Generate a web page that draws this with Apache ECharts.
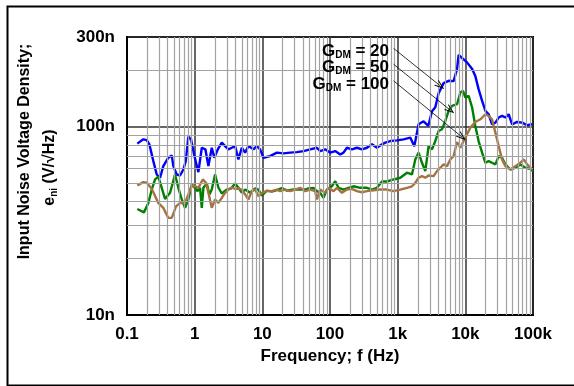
<!DOCTYPE html>
<html>
<head>
<meta charset="utf-8">
<script src="https://cdn.jsdelivr.net/npm/echarts@6/dist/echarts.min.js"></script>
<style>
html, body { margin: 0; padding: 0; background: #fff; }
#chart { width: 574px; height: 386px; }
</style>
</head>
<body>
<div id="chart"></div>
<script>
// G_DM = 20 (blue)
var freqG20 = [0.142, 0.174, 0.196, 0.214, 0.245, 0.275, 0.308, 0.344, 0.408, 0.458, 0.484, 0.543, 0.608, 0.681, 0.739, 0.807, 0.884, 0.98,
	1.134, 1.274, 1.44, 1.595, 1.79, 1.956, 2.196, 2.517, 2.817, 3.15, 3.54, 3.96, 4.43, 4.97, 5.57, 6.23, 7.39, 8.29, 9.28,
	10.4, 13.0, 16.4, 20.5, 25.8, 32.4, 40.6, 51, 64, 71.6, 84.9, 100.7, 119.4, 141.6, 158.4, 177.8, 210.9, 250, 296.4, 351.5,
	416.7, 494, 586, 655.6, 777, 976, 1223, 1536, 1761, 2038, 2416, 2836, 3217, 3599, 4027, 4775, 5662, 6712, 7539, 7960, 8939,
	10600, 12600, 14050, 15700, 17700, 19800, 22100, 24800, 27800, 31100, 34900, 39100, 43700, 49100, 58200, 69000, 81800, 97000];
var noiseG20 = [81.4, 85.8, 85.0, 80.7, 65.7, 55.8, 53.6, 61.8, 68.5, 70.5, 61.8, 55.8, 55.1, 59.3, 65.7, 88.6, 85.8, 71.3,
	57.4, 77.4, 75.9, 61.8, 77.4, 68.5, 75.9, 82.4, 79.0, 75.9, 77.4, 79.0, 67.1, 77.4, 72.9, 79.0, 75.9, 79.0, 75.9,
	68.5, 69.9, 72.9, 72.2, 72.9, 73.4, 74.3, 75.9, 77.4, 74.3, 75.9, 72.9, 74.3, 71.3, 72.9, 77.4, 75.9, 77.4, 75.9, 77.4,
	80.7, 77.4, 80.7, 82.4, 84.0, 84.7, 85.8, 87.6, 78.7, 103.1, 107.0, 101.2, 121.0, 127.1, 150.9, 170.6, 175.5, 174.8, 202.6, 240.7, 232.0,
	220.0, 202.6, 185.9, 158.5, 137.3, 121.4, 116.6, 103.1, 105.3, 112.0, 114.2, 112.0, 116.6, 103.1, 106.1, 105.3, 101.9, 103.1];

// G_DM = 50 (green)
var freqG50 = [0.142, 0.178, 0.207, 0.232, 0.26, 0.29, 0.326, 0.365, 0.433, 0.513, 0.574, 0.645, 0.721, 0.807, 0.906,
	1.014, 1.096, 1.202, 1.274, 1.345, 1.51, 1.65, 1.79, 2.003, 2.242, 2.517, 2.985, 3.455, 3.96, 4.43, 4.97, 5.57, 6.6, 7.83, 8.76, 9.83,
	11.66, 13.82, 16.4, 19.4, 23.0, 28.9, 36.2, 43.0, 48.1, 57.0, 64, 71.6, 80.1, 90, 106.7, 119.4, 133.6, 158.4, 187.8, 222.6, 279.7,
	351.5, 416.7, 494, 586, 694.6, 869.9, 1093, 1373, 1627, 1821, 2038, 2288, 2561, 2865, 3217, 3599, 4027, 4521, 5059, 5662, 6357, 7539,
	8433, 9247, 10000, 11190, 12600, 14050, 15700, 17700, 19800, 22100, 24800, 27800, 31100, 34900, 39100, 46300, 54900, 65100, 77200, 91500, 100000];
var noiseG50 = [36.6, 35.1, 39.4, 46.4, 52.5, 54.3, 47.4, 41.4, 44.6, 55.8, 47.4, 41.1, 37.1, 41.1, 49.4,
	47.4, 45.5, 47.4, 37.1, 47.4, 50.0, 43.7, 46.4, 55.8, 47.6, 44.2, 46.4, 47.0, 50.0, 47.4, 44.7, 46.4, 44.7, 47.0, 46.4, 43.1,
	45.8, 45.3, 46.1, 47.3, 45.8, 46.4, 46.4, 46.4, 47.0, 47.3, 45.5, 44.6, 41.9, 46.4, 48.3, 51.4, 47.4, 46.4, 47.4, 48.3, 47.4,
	47.4, 46.4, 47.4, 51.2, 51.2, 52.5, 53.6, 57.0, 55.8, 67.1, 72.9, 64.4, 58.1, 79.0, 75.9, 84.0, 95.0, 97.0, 107.4, 121.4, 129.1, 131.8,
	152.2, 155.2, 143.1, 146.0, 126.6, 101.0, 84.0, 72.9, 64.4, 65.7, 64.4, 63.1, 69.9, 68.5, 63.1, 59.3, 60.6, 63.1, 60.6, 59.8, 58.1];

// G_DM = 100 (brown)
var freqG100 = [0.142, 0.174, 0.196, 0.232, 0.29, 0.344, 0.408, 0.458, 0.531, 0.608, 0.721, 0.807, 0.906,
	1.014, 1.134, 1.318, 1.474, 1.595, 1.79, 2.003, 2.242, 2.517, 2.817, 3.15, 3.54, 3.96, 4.43, 4.97, 5.57, 6.23, 6.99, 7.83, 8.76, 9.83,
	11.66, 13.82, 16.4, 18.3, 21.7, 25.8, 30.6, 36.2, 43.0, 51, 60.4, 64, 71.6, 84.9, 95.0, 112.7, 126.5, 150, 177.8, 210.9, 250, 296.4,
	351.5, 440, 553, 694.6, 869.9, 1093, 1373, 1627, 1821, 2038, 2288, 2561, 2865, 3398, 3813, 4268, 4775, 5362, 5999, 6712, 7539, 8433, 9439,
	10600, 11860, 14050, 16700, 19800, 22100, 24800, 27800, 31100, 34900, 39100, 46300, 54900, 65100, 72900, 81800, 97000];
var noiseG100 = [48.8, 50.8, 50.4, 46.8, 39.4, 37.1, 32.8, 32.8, 37.8, 39.4, 39.4, 43.7, 48.8,
	48.3, 47.4, 52.5, 50.4, 44.6, 37.1, 41.1, 39.4, 41.9, 44.6, 46.4, 47.6, 46.7, 47.0, 46.4, 43.7, 41.1, 45.5, 46.4, 42.8, 44.6,
	45.5, 45.5, 46.4, 45.5, 46.4, 45.5, 46.4, 47.4, 45.5, 46.4, 45.5, 41.1, 46.4, 44.6, 47.4, 45.5, 47.4, 44.6, 46.4, 46.8, 45.5, 44.9,
	45.5, 46.0, 46.4, 46.4, 45.5, 46.4, 47.4, 48.3, 50.4, 53.6, 54.7, 53.6, 55.1, 54.7, 58.1, 60.6, 63.1, 61.8, 67.1, 69.9, 83.0, 77.4, 84.0,
	91.2, 99.0, 106.1, 109.6, 116.6, 114.2, 109.6, 93.1, 79.0, 67.1, 61.8, 59.3, 61.8, 64.4, 67.1, 63.1, 59.3];

var gainLabels = ['20', '50', '100'];
var lineColors = ['#0000ff', '#008000', '#a6723f'];

// annotation arrows: [from, to] in (Hz, nV)
var arrowFrom = [[870, 261], [870, 215], [870, 175.5]];
var arrowTo = [[4268, 165], [5999, 122.5], [8939, 88.2]];

// minor grid (2..9 of every decade)
var xMinor = [], yMinor = [];
[0.1, 1, 10, 100, 1000, 10000].forEach(function(d) {
	for (var k = 2; k <= 9; k++) xMinor.push(+(d * k).toPrecision(3));
});
for (var k = 2; k <= 9; k++) yMinor.push(10 * k);
yMinor.push(200);

function zip(a, b) {
	var out = [];
	for (var i = 0; i < a.length; i++) out.push([a[i], b[i]]);
	return out;
}

var FONT = 'Arial, "Liberation Sans", sans-serif';

function xLabel(v) {
	var r = +v.toPrecision(3);
	if (r >= 1000) return (r / 1000) + 'k';
	return '' + r;
}

var gridLines = [];
xMinor.forEach(function(v) { gridLines.push({ xAxis: v }); });
yMinor.forEach(function(v) { gridLines.push({ yAxis: v }); });

var arrows = [];
for (var i = 0; i < arrowFrom.length; i++) {
	arrows.push([{ coord: arrowFrom[i] }, { coord: arrowTo[i] }]);
}

var curves = [
	{ f: freqG20, v: noiseG20 },
	{ f: freqG50, v: noiseG50 },
	{ f: freqG100, v: noiseG100 }
];

var series = [{
	type: 'line',
	data: [],
	silent: true,
	z: 1,
	markLine: {
		silent: true,
		symbol: 'none',
		animation: false,
		label: { show: false },
		lineStyle: { type: 'solid', color: '#a2a2a2', width: 1.2 },
		data: gridLines
	}
}];
curves.forEach(function(c, i) {
	series.push({
		name: 'G' + gainLabels[i],
		type: 'line',
		data: zip(c.f, c.v),
		showSymbol: false,
		z: 3,
		lineStyle: { color: lineColors[i], width: 2.4 },
		itemStyle: { color: lineColors[i] }
	});
});
series.push({
	type: 'line',
	data: [],
	silent: true,
	z: 4,
	markLine: {
		silent: true,
		animation: false,
		symbol: ['none', 'path://M0,10 L5,0 L10,10 L8.6,10 L5,3 L1.4,10 Z'],
		symbolSize: [7, 10],
		label: { show: false },
		lineStyle: { type: 'solid', color: '#000', width: 0.8 },
		data: arrows
	}
});

var rich = {
	g: { fontFamily: FONT, fontWeight: 'bold', fontSize: 17, lineHeight: 18, color: '#000' },
	s: { fontFamily: FONT, fontWeight: 'bold', fontSize: 10, lineHeight: 10, verticalAlign: 'bottom', color: '#000' }
};

var graphics = [{
	type: 'rect',
	left: 5, top: 4,
	shape: { width: 620, height: 379 },
	style: { fill: 'none', stroke: '#000', lineWidth: 2 },
	silent: true
}, {
	type: 'text',
	x: 25, y: 151.5,
	rotation: Math.PI / 2,
	style: { text: 'Input Noise Voltage Density;', font: 'bold 16px ' + FONT, fill: '#000', align: 'center', verticalAlign: 'middle' }
}, {
	type: 'text',
	x: 50, y: 167.5,
	rotation: Math.PI / 2,
	style: { text: '{g|e}{s|ni}{g| (V/\u221AHz)}', rich: {
		g: { fontFamily: FONT, fontWeight: 'bold', fontSize: 16, lineHeight: 18, color: '#000' },
		s: { fontFamily: FONT, fontWeight: 'bold', fontSize: 10, lineHeight: 10, verticalAlign: 'bottom', color: '#000' }
	}, align: 'center', verticalAlign: 'middle' }
}];
var annY = [51, 67.5, 84];
gainLabels.forEach(function(g, i) {
	graphics.push({
		type: 'text',
		x: 389, y: annY[i],
		z: 10,
		style: { text: '{g|G}{s|DM}{g| = ' + g + '}', rich: rich, align: 'right', verticalAlign: 'middle' }
	});
});

var option = {
	animation: false,
	backgroundColor: '#fff',
	grid: { left: 127, right: 41, top: 37, bottom: 71, show: true, borderColor: '#000', borderWidth: 2 },
	xAxis: {
		type: 'log',
		min: 0.1,
		max: 100000,
		logBase: 10,
		name: 'Frequency; f (Hz)',
		nameLocation: 'middle',
		nameGap: 27,
		nameTextStyle: { fontFamily: FONT, fontWeight: 'bold', fontSize: 17, color: '#000' },
		axisLine: { lineStyle: { color: '#000', width: 2 } },
		axisTick: { show: false },
		axisLabel: { margin: 11, fontFamily: FONT, fontWeight: 'bold', fontSize: 17, color: '#000', formatter: xLabel },
		splitLine: { show: true, lineStyle: { color: '#333', width: 1.5 } }
	},
	yAxis: {
		type: 'log',
		min: 10,
		max: 300,
		logBase: 10,
		axisLine: { show: true, lineStyle: { color: '#000', width: 2 } },
		axisTick: { show: false },
		axisLabel: {
			margin: 12, fontFamily: FONT, fontWeight: 'bold', fontSize: 17, color: '#000',
			padding: [6, 0, 0, 0],
			formatter: function(v) { return Math.round(v) + 'n'; }
		},
		splitLine: { show: true, lineStyle: { color: '#333', width: 1.5 } }
	},
	graphic: graphics,
	series: series
};

var chart = echarts.init(document.getElementById('chart'));
chart.setOption(option);
</script>
</body>
</html>
